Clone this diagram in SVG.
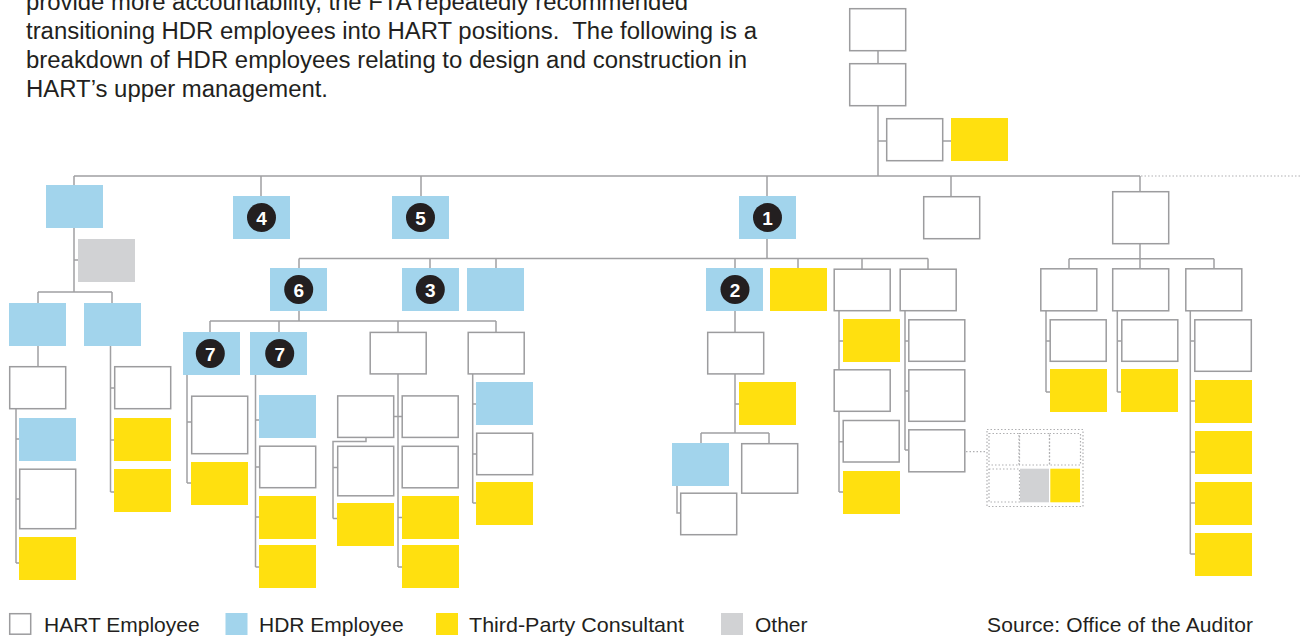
<svg xmlns="http://www.w3.org/2000/svg" width="1301" height="636" viewBox="0 0 1301 636">
<style>
.w{fill:#fff;stroke:#9c9c9e;stroke-width:1.5}
.b{fill:#a2d4ec}
.y{fill:#ffe00f}
.g{fill:#d1d2d4}
.c{fill:none;stroke:#a0a0a2;stroke-width:1.5}
.d{fill:none;stroke:#b0b0b2;stroke-width:1.2;stroke-dasharray:1.5 2}
.n{fill:#231f20}
.nt{fill:#fff;font-family:"Liberation Sans",Arial,sans-serif;font-weight:bold;font-size:19px;text-anchor:middle}
.t{fill:#231f20;font-family:"Liberation Sans",Arial,sans-serif;font-size:23px}
.l{fill:#231f20;font-family:"Liberation Sans",Arial,sans-serif;font-size:21px}
</style>
<rect width="1301" height="636" fill="#fff"/>
<g id="intro">
<text class="t" x="26" y="10" textLength="662" lengthAdjust="spacingAndGlyphs">provide more accountability, the FTA repeatedly recommended</text>
<text class="t" x="26" y="39" textLength="731" lengthAdjust="spacingAndGlyphs" xml:space="preserve">transitioning HDR employees into HART positions.  The following is a</text>
<text class="t" x="26" y="68" textLength="721" lengthAdjust="spacingAndGlyphs">breakdown of HDR employees relating to design and construction in</text>
<text class="t" x="26" y="97" textLength="302" lengthAdjust="spacingAndGlyphs">HART’s upper management.</text>
</g>
<g id="connectors">
<path class="c" d="M878 51V63M878 106V176M878 141H886M943 141H951"/>
<path class="c" d="M74 176H1140M74 176V185M261 176V196M421 176V196M767 176V196M951 176V196M1140 176V191"/>
<path class="d" d="M1141 176H1301"/>
<path class="c" d="M74 228V292M74 260H78M38 292H112M38 292V303M112 292V303"/>
<path class="c" d="M38 346V366M16 409V563M16 439H19M16 499H19M16 563H19"/>
<path class="c" d="M110.5 346V492M110.5 388H114M110.5 440H114M110.5 492H114"/>
<path class="c" d="M767 239V258.5M299 258.5H928M299 258.5V268M430 258.5V268M496 258.5V268M735 258.5V268M798 258.5V268M862 258.5V269M928 258.5V269"/>
<path class="c" d="M299 311V321M210 321H496M210 321V332M279 321V332M398 321V332M496 321V332"/>
<path class="c" d="M187 375V483M187 422H191M187 483H191"/>
<path class="c" d="M255.5 375V567M255.5 420H259M255.5 467H259M255.5 517H259M255.5 567H259"/>
<path class="c" d="M398 374V567M394 416.5H402M398 517.5H402M398 567H402"/>
<path class="c" d="M366 437.5V441.5H333V518.5M333 467.5H337M333 518.5H337"/>
<path class="c" d="M472.7 374V503M472.7 404H476M472.7 454H476M472.7 503H476"/>
<path class="c" d="M735 311V332M735 374V433M735 404H739M701 433H769M701 433V443M769 433V443M677 486V513H680"/>
<path class="c" d="M839 311V492M839 341H843M839 441.7H843M839 492H843"/>
<path class="c" d="M905 311V450M905 341H908M905 391H908M905 450H908"/>
<path class="d" d="M966 451.7H987"/>
<path class="c" d="M1140 244V258.7M1069 258.7H1214M1069 258.7V268M1140 258.7V268M1214 258.7V268"/>
<path class="c" d="M1046 311V392M1046 341H1050M1046 392H1050"/>
<path class="c" d="M1117.3 311V392M1117.3 341H1121M1117.3 392H1121"/>
<path class="c" d="M1190.3 311V554M1190.3 341H1194M1190.3 401H1195M1190.3 452H1195M1190.3 503H1195M1190.3 554H1195"/>
</g>
<g id="top">
<rect class="w" x="849.7" y="8.7" width="56" height="42"/>
<rect class="w" x="849.7" y="63.7" width="56" height="42"/>
<rect class="w" x="886.7" y="118.7" width="56" height="42"/>
<rect class="y" x="951" y="118" width="57" height="43"/>
</g>
<g id="nodeA">
<rect class="b" x="46" y="185" width="57" height="43"/>
<rect class="g" x="78" y="239" width="57" height="43"/>
<rect class="b" x="9" y="303" width="57" height="43"/>
<rect class="b" x="84" y="303" width="57" height="43"/>
<rect class="w" x="9.7" y="366.7" width="56" height="42"/>
<rect class="b" x="19" y="418" width="57" height="43"/>
<rect class="w" x="19.7" y="469.2" width="56" height="59.5"/>
<rect class="y" x="19" y="537" width="57" height="43"/>
<rect class="w" x="114.7" y="366.7" width="56" height="42"/>
<rect class="y" x="114" y="418" width="57" height="43"/>
<rect class="y" x="114" y="469" width="57" height="43"/>
</g>
<g id="node4">
<rect class="b" x="233" y="196" width="57" height="43"/>
<circle class="n" cx="261.5" cy="217.5" r="14.5"/>
<text class="nt" x="261.5" y="224.5">4</text>
</g>
<g id="node5">
<rect class="b" x="392" y="196" width="57" height="43"/>
<circle class="n" cx="420.5" cy="217.5" r="14.5"/>
<text class="nt" x="420.5" y="224.5">5</text>
</g>
<g id="node1">
<rect class="b" x="739" y="196" width="57" height="43"/>
<circle class="n" cx="767.5" cy="217.5" r="14.5"/>
<text class="nt" x="767.5" y="224.5">1</text>
</g>
<g id="nodeW1">
<rect class="w" x="923.7" y="196.7" width="56" height="42"/>
</g>
<g id="node6">
<rect class="b" x="270" y="268" width="57" height="43"/>
<circle class="n" cx="298.7" cy="289.5" r="14.5"/>
<text class="nt" x="298.7" y="296.5">6</text>
</g>
<g id="node7a">
<rect class="b" x="183" y="332" width="57" height="43"/>
<circle class="n" cx="210.3" cy="353.5" r="14.5"/>
<text class="nt" x="210.3" y="360.5">7</text>
<rect class="w" x="191.7" y="396.2" width="56" height="57.5"/>
<rect class="y" x="191" y="462" width="57" height="43"/>
</g>
<g id="node7b">
<rect class="b" x="250" y="332" width="57" height="43"/>
<circle class="n" cx="279.7" cy="353.5" r="14.5"/>
<text class="nt" x="279.7" y="360.5">7</text>
<rect class="b" x="259" y="395" width="57" height="43"/>
<rect class="w" x="259.7" y="446.2" width="56" height="41.5"/>
<rect class="y" x="259" y="496" width="57" height="43"/>
<rect class="y" x="259" y="545" width="57" height="43"/>
</g>
<g id="nodeW6c">
<rect class="w" x="370.2" y="332.4" width="56" height="41.5"/>
<rect class="w" x="337.7" y="395.9" width="56" height="41.5"/>
<rect class="w" x="337.7" y="446.3" width="56" height="49.5"/>
<rect class="y" x="337" y="503" width="57" height="43"/>
<rect class="w" x="402.2" y="395.9" width="56" height="41.5"/>
<rect class="w" x="402.2" y="446.3" width="56" height="41.5"/>
<rect class="y" x="402" y="496" width="57" height="43"/>
<rect class="y" x="402" y="545" width="57" height="43"/>
</g>
<g id="nodeW6d">
<rect class="w" x="468.2" y="332.4" width="56" height="41.5"/>
<rect class="b" x="476" y="382" width="57" height="43"/>
<rect class="w" x="476.7" y="433.2" width="56" height="41.5"/>
<rect class="y" x="476" y="482" width="57" height="43"/>
</g>
<g id="node3">
<rect class="b" x="402" y="268" width="57" height="43"/>
<circle class="n" cx="430.3" cy="289.5" r="14.5"/>
<text class="nt" x="430.3" y="296.5">3</text>
</g>
<g id="nodeB3">
<rect class="b" x="467" y="268" width="57" height="43"/>
</g>
<g id="node2">
<rect class="b" x="706" y="268" width="57" height="43"/>
<circle class="n" cx="735" cy="289.5" r="14.5"/>
<text class="nt" x="735" y="296.5">2</text>
<rect class="w" x="707.7" y="332.4" width="56" height="41.5"/>
<rect class="y" x="739" y="382" width="57" height="43"/>
<rect class="b" x="672" y="443" width="57" height="43"/>
<rect class="w" x="741.7" y="443.7" width="56" height="49.5"/>
<rect class="w" x="680.7" y="493.2" width="56" height="41.5"/>
</g>
<g id="nodeY2">
<rect class="y" x="770" y="268" width="57" height="43"/>
</g>
<g id="nodeW2a">
<rect class="w" x="834.2" y="269.2" width="56" height="41.5"/>
<rect class="y" x="843" y="319" width="57" height="43"/>
<rect class="w" x="834.2" y="369.8" width="56" height="41.5"/>
<rect class="w" x="843.2" y="420.5" width="56" height="41.5"/>
<rect class="y" x="843" y="471" width="57" height="43"/>
</g>
<g id="nodeW2b">
<rect class="w" x="900.2" y="269.2" width="56" height="41.5"/>
<rect class="w" x="908.8" y="319.8" width="56" height="41.5"/>
<rect class="w" x="908.8" y="369.8" width="56" height="51.5"/>
<rect class="w" x="908.8" y="429.8" width="56" height="42"/>
</g>
<g id="grid">
<rect class="d" x="987" y="429.5" width="96" height="77"/>
<rect class="d" x="989" y="433.5" width="30" height="31.5"/>
<rect class="d" x="1019.5" y="433.5" width="30" height="31.5"/>
<rect class="d" x="1049.5" y="433.5" width="31" height="31.5"/>
<rect class="d" x="989" y="469" width="30.5" height="33"/>
<rect class="g" x="1020" y="468.7" width="29" height="33.6"/>
<rect class="y" x="1050.3" y="468.7" width="29.7" height="33.6"/>
</g>
<g id="nodeR">
<rect class="w" x="1112.7" y="191.7" width="56" height="52"/>
<rect class="w" x="1040.8" y="268.8" width="56" height="42"/>
<rect class="w" x="1112.7" y="268.8" width="56" height="42"/>
<rect class="w" x="1185.8" y="268.8" width="56" height="42"/>
<rect class="w" x="1050.2" y="319.8" width="56" height="41.5"/>
<rect class="y" x="1050" y="369" width="57" height="43"/>
<rect class="w" x="1121.8" y="319.8" width="56" height="41.5"/>
<rect class="y" x="1121" y="369" width="57" height="43"/>
<rect class="w" x="1194.8" y="319.8" width="56.5" height="51.5"/>
<rect class="y" x="1195" y="380" width="57" height="43"/>
<rect class="y" x="1195" y="431" width="57" height="43"/>
<rect class="y" x="1195" y="482" width="57" height="43"/>
<rect class="y" x="1195" y="533" width="57" height="43"/>
</g>
<g id="legend">
<rect class="w" x="9.7" y="613.7" width="21" height="20.5"/>
<text class="l" x="44" y="632">HART Employee</text>
<rect class="b" x="225.5" y="613" width="22" height="22"/>
<text class="l" x="259" y="632">HDR Employee</text>
<rect class="y" x="436" y="613" width="22" height="22"/>
<text class="l" x="469" y="632" textLength="215" lengthAdjust="spacingAndGlyphs">Third-Party Consultant</text>
<rect class="g" x="721" y="613" width="22" height="22"/>
<text class="l" x="755" y="632">Other</text>
<text class="l" x="987" y="632" textLength="266" lengthAdjust="spacing">Source: Office of the Auditor</text>
</g>
</svg>
